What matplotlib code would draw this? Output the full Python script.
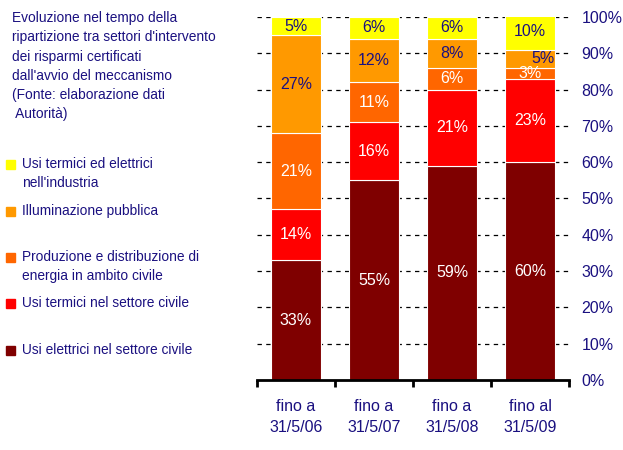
import matplotlib
matplotlib.use("Agg")
import matplotlib.pyplot as plt
from matplotlib.patches import Rectangle

plt.rcParams['font.family'] = ['Liberation Sans', 'DejaVu Sans']

# Dati (percentuali per settore, dal basso verso l'alto)
categorie = ["fino a\n31/5/06", "fino a\n31/5/07", "fino a\n31/5/08", "fino al\n31/5/09"]
usi_elettrici_civile = [33, 55, 59, 60]
usi_termici_civile = [14, 16, 21, 23]
produzione_distribuzione = [21, 11, 6, 3]
illuminazione_pubblica = [27, 12, 8, 5]
usi_industria = [5, 6, 6, 10]

serie = [usi_elettrici_civile, usi_termici_civile, produzione_distribuzione,
         illuminazione_pubblica, usi_industria]
colori = ["#7F0000", "#FF0000", "#FF6600", "#FF9900", "#FFFF00"]
colori_testo = ["white", "white", "white", "#1A1080", "#1A1080"]
nomi_legenda = [
    "Usi termici ed elettrici\nnell'industria",
    "Illuminazione pubblica",
    "Produzione e distribuzione di\nenergia in ambito civile",
    "Usi termici nel settore civile",
    "Usi elettrici nel settore civile",
]
colori_legenda = ["#FFFF00", "#FF9900", "#FF6600", "#FF0000", "#7F0000"]
tick_y = [0, 10, 20, 30, 40, 50, 60, 70, 80, 90, 100]

blu = "#1A1080"

fig = plt.figure(figsize=(6.23, 4.5), dpi=100)
ax = fig.add_axes([0.4125, 0.1556, 0.5008, 0.8067])

x = list(range(len(categorie)))
base = [0] * len(categorie)
for i, (valori, col) in enumerate(zip(serie, colori)):
    ax.bar(x, valori, width=0.65, bottom=base, color=col, edgecolor="white",
           linewidth=0.8, zorder=2)
    for j, v in enumerate(valori):
        cx = x[j]
        cy = base[j] + v / 2
        col_t = colori_testo[i]
        # piccola etichetta spostata a destra nell'ultima barra
        if i == 3 and j == 3:
            cx += 0.17
        ax.text(cx, cy, f"{v}%", ha="center", va="center", fontsize=11.5,
                color=col_t, zorder=3)
    base = [b + v for b, v in zip(base, valori)]

ax.set_xlim(-0.5, len(categorie) - 0.5)
ax.set_ylim(0, 100)

# griglia tratteggiata
for t in tick_y[1:]:
    ax.axhline(t, color="black", linewidth=0.9, linestyle=(0, (3.5, 3.5)), zorder=1)

for s in ["top", "left", "right"]:
    ax.spines[s].set_visible(False)
ax.spines["bottom"].set_linewidth(2)
ax.spines["bottom"].set_zorder(4)

ax.yaxis.tick_right()
ax.set_yticks(tick_y)
ax.set_yticklabels([f"{t}%" for t in tick_y])
ax.tick_params(axis="y", length=0, pad=9, labelsize=11.5, labelcolor=blu)
for lab in ax.get_yticklabels():
    lab.set_horizontalalignment("left")

ax.set_xticks([k - 0.5 for k in range(len(categorie) + 1)])
ax.set_xticklabels([])
ax.tick_params(axis="x", which="major", length=5, width=2, direction="out", color="black")
ax.set_xticks(x, minor=True)
ax.set_xticklabels(categorie, minor=True)
ax.tick_params(axis="x", which="minor", length=0, pad=14, labelsize=11.5, labelcolor=blu)
for lab in ax.get_xticklabels(minor=True):
    lab.set_linespacing(1.45)

# titolo a sinistra
fig.text(12 / 623, 1 - 11 / 450,
         "Evoluzione nel tempo della\nripartizione tra settori d'intervento\n"
         "dei risparmi certificati\ndall'avvio del meccanismo\n"
         "(Fonte: elaborazione dati\n Autorità)",
         ha="left", va="top", fontsize=9.9, color=blu, linespacing=1.48)

# legenda
y_legenda = [164, 211, 257, 303, 350]
for nome, col, yp in zip(nomi_legenda, colori_legenda, y_legenda):
    fig.add_artist(Rectangle((6 / 623, 1 - (yp + 5) / 450), 9 / 623, 9 / 450,
                             transform=fig.transFigure, color=col))
    fig.text(22 / 623, 1 - (yp - 7) / 450, nome, ha="left", va="top",
             fontsize=9.9, color=blu, linespacing=1.48)

fig.savefig("out.png", dpi=100)
